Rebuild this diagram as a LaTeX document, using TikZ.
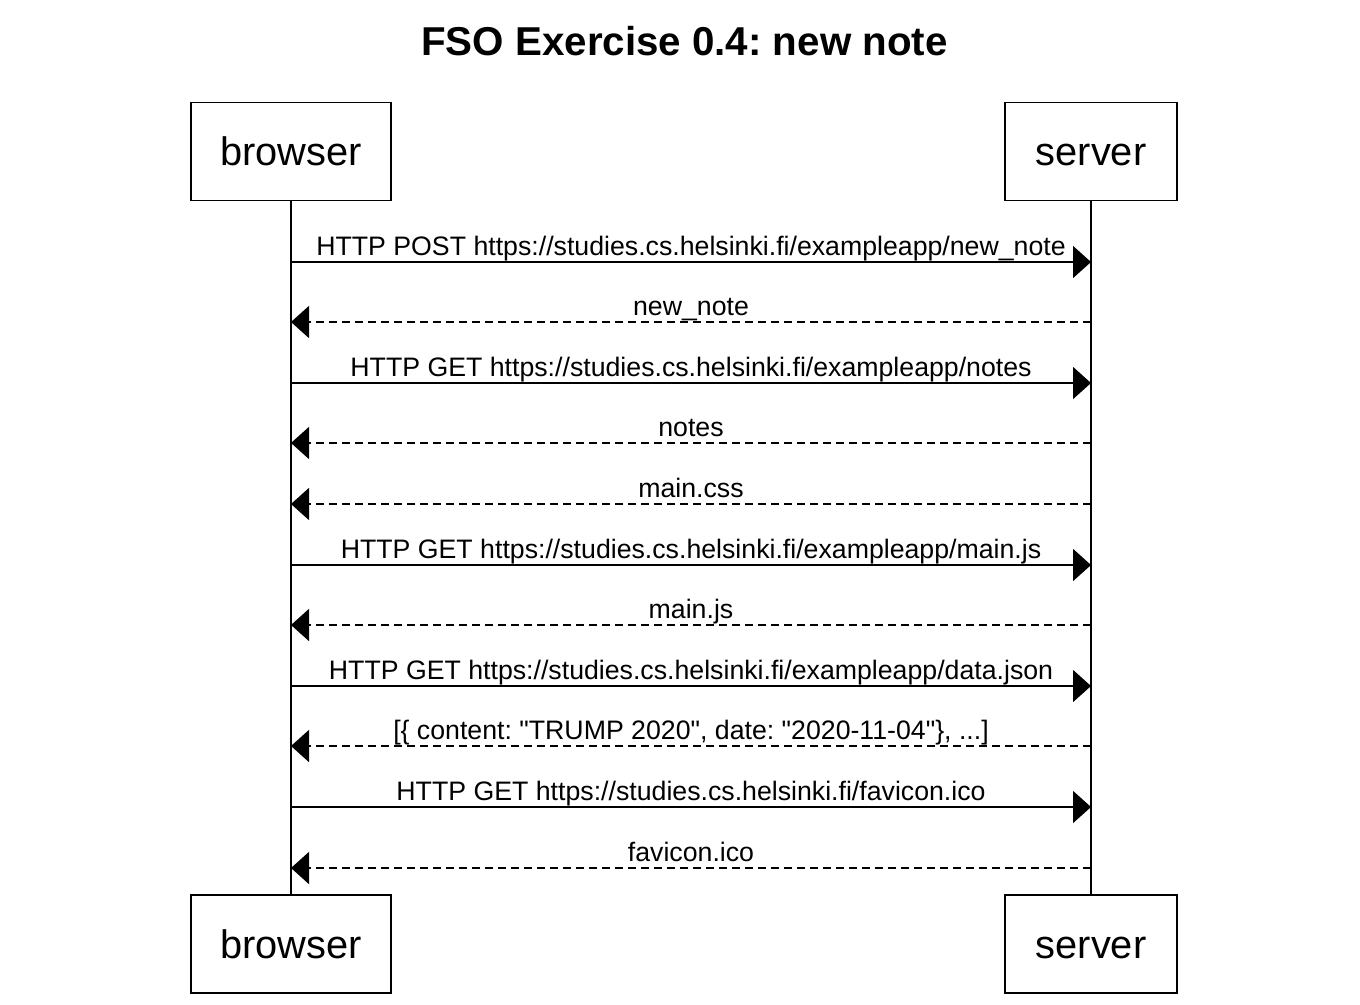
\documentclass[tikz,border=0pt]{standalone}
\usepackage{fontspec}
\setmainfont{Liberation Sans}[Ligatures=TeXOff]
\usetikzlibrary{arrows.meta}
\frenchspacing
\begin{document}
\frenchspacing
\begin{tikzpicture}[x=1pt,y=-1pt,
  actor/.style={draw, line width=1.6pt, fill=white, inner sep=0pt,
    font=\fontsize{39.8}{44}\selectfont, text height=28.6pt, text depth=0pt,
    minimum height=98pt},
  life/.style={line width=1.6pt},
  lbl/.style={font=\fontsize{26.7}{30}\selectfont, anchor=base, inner sep=0pt, yshift=7pt},
  req/.style={line width=1.6pt, -{Triangle[length=18pt,width=32pt]}},
  resp/.style={req, dash pattern=on 8pt off 5pt}]
\useasboundingbox (0,0) rectangle (1360,1004);
\node[font=\bfseries\fontsize{40.3}{46}\selectfont, anchor=base, inner sep=0pt] (title) at (684.5,55) {FSO Exercise 0.4: new note};
\node[actor, minimum width=200pt] (bt) at (291,151.5) {browser};
\node[actor, minimum width=172pt] (st) at (1091,151.5) {server};
\node[actor, minimum width=200pt] (bb) at (291,944) {browser};
\node[actor, minimum width=172pt] (sb) at (1091,944) {server};
\draw[life] (bt.south) -- (bb.north);
\draw[life] (st.south) -- (sb.north);
\foreach \i/\y in {1/262,2/322,3/383,4/443,5/504,6/565,7/625,8/686,9/746,10/807,11/868}{
  \coordinate (b\i) at (291,\y);
  \coordinate (s\i) at (1091,\y);
}
\draw[req] (b1) -- node[lbl] {HTTP POST https://studies.cs.helsinki.fi/exampleapp/new\_note} (s1);
\draw[resp] (s2) -- node[lbl] {new\_note} (b2);
\draw[req] (b3) -- node[lbl] {HTTP GET https://studies.cs.helsinki.fi/exampleapp/notes} (s3);
\draw[resp] (s4) -- node[lbl] {notes} (b4);
\draw[resp] (s5) -- node[lbl] {main.css} (b5);
\draw[req] (b6) -- node[lbl] {HTTP GET https://studies.cs.helsinki.fi/exampleapp/main.js} (s6);
\draw[resp] (s7) -- node[lbl] {main.js} (b7);
\draw[req] (b8) -- node[lbl] {HTTP GET https://studies.cs.helsinki.fi/exampleapp/data.json} (s8);
\draw[resp] (s9) -- node[lbl] {[\{ content: "TRUMP 2020", date: "2020-11-04"\}, ...]} (b9);
\draw[req] (b10) -- node[lbl] {HTTP GET https://studies.cs.helsinki.fi/favicon.ico} (s10);
\draw[resp] (s11) -- node[lbl] {favicon.ico} (b11);
\end{tikzpicture}
\end{document}
